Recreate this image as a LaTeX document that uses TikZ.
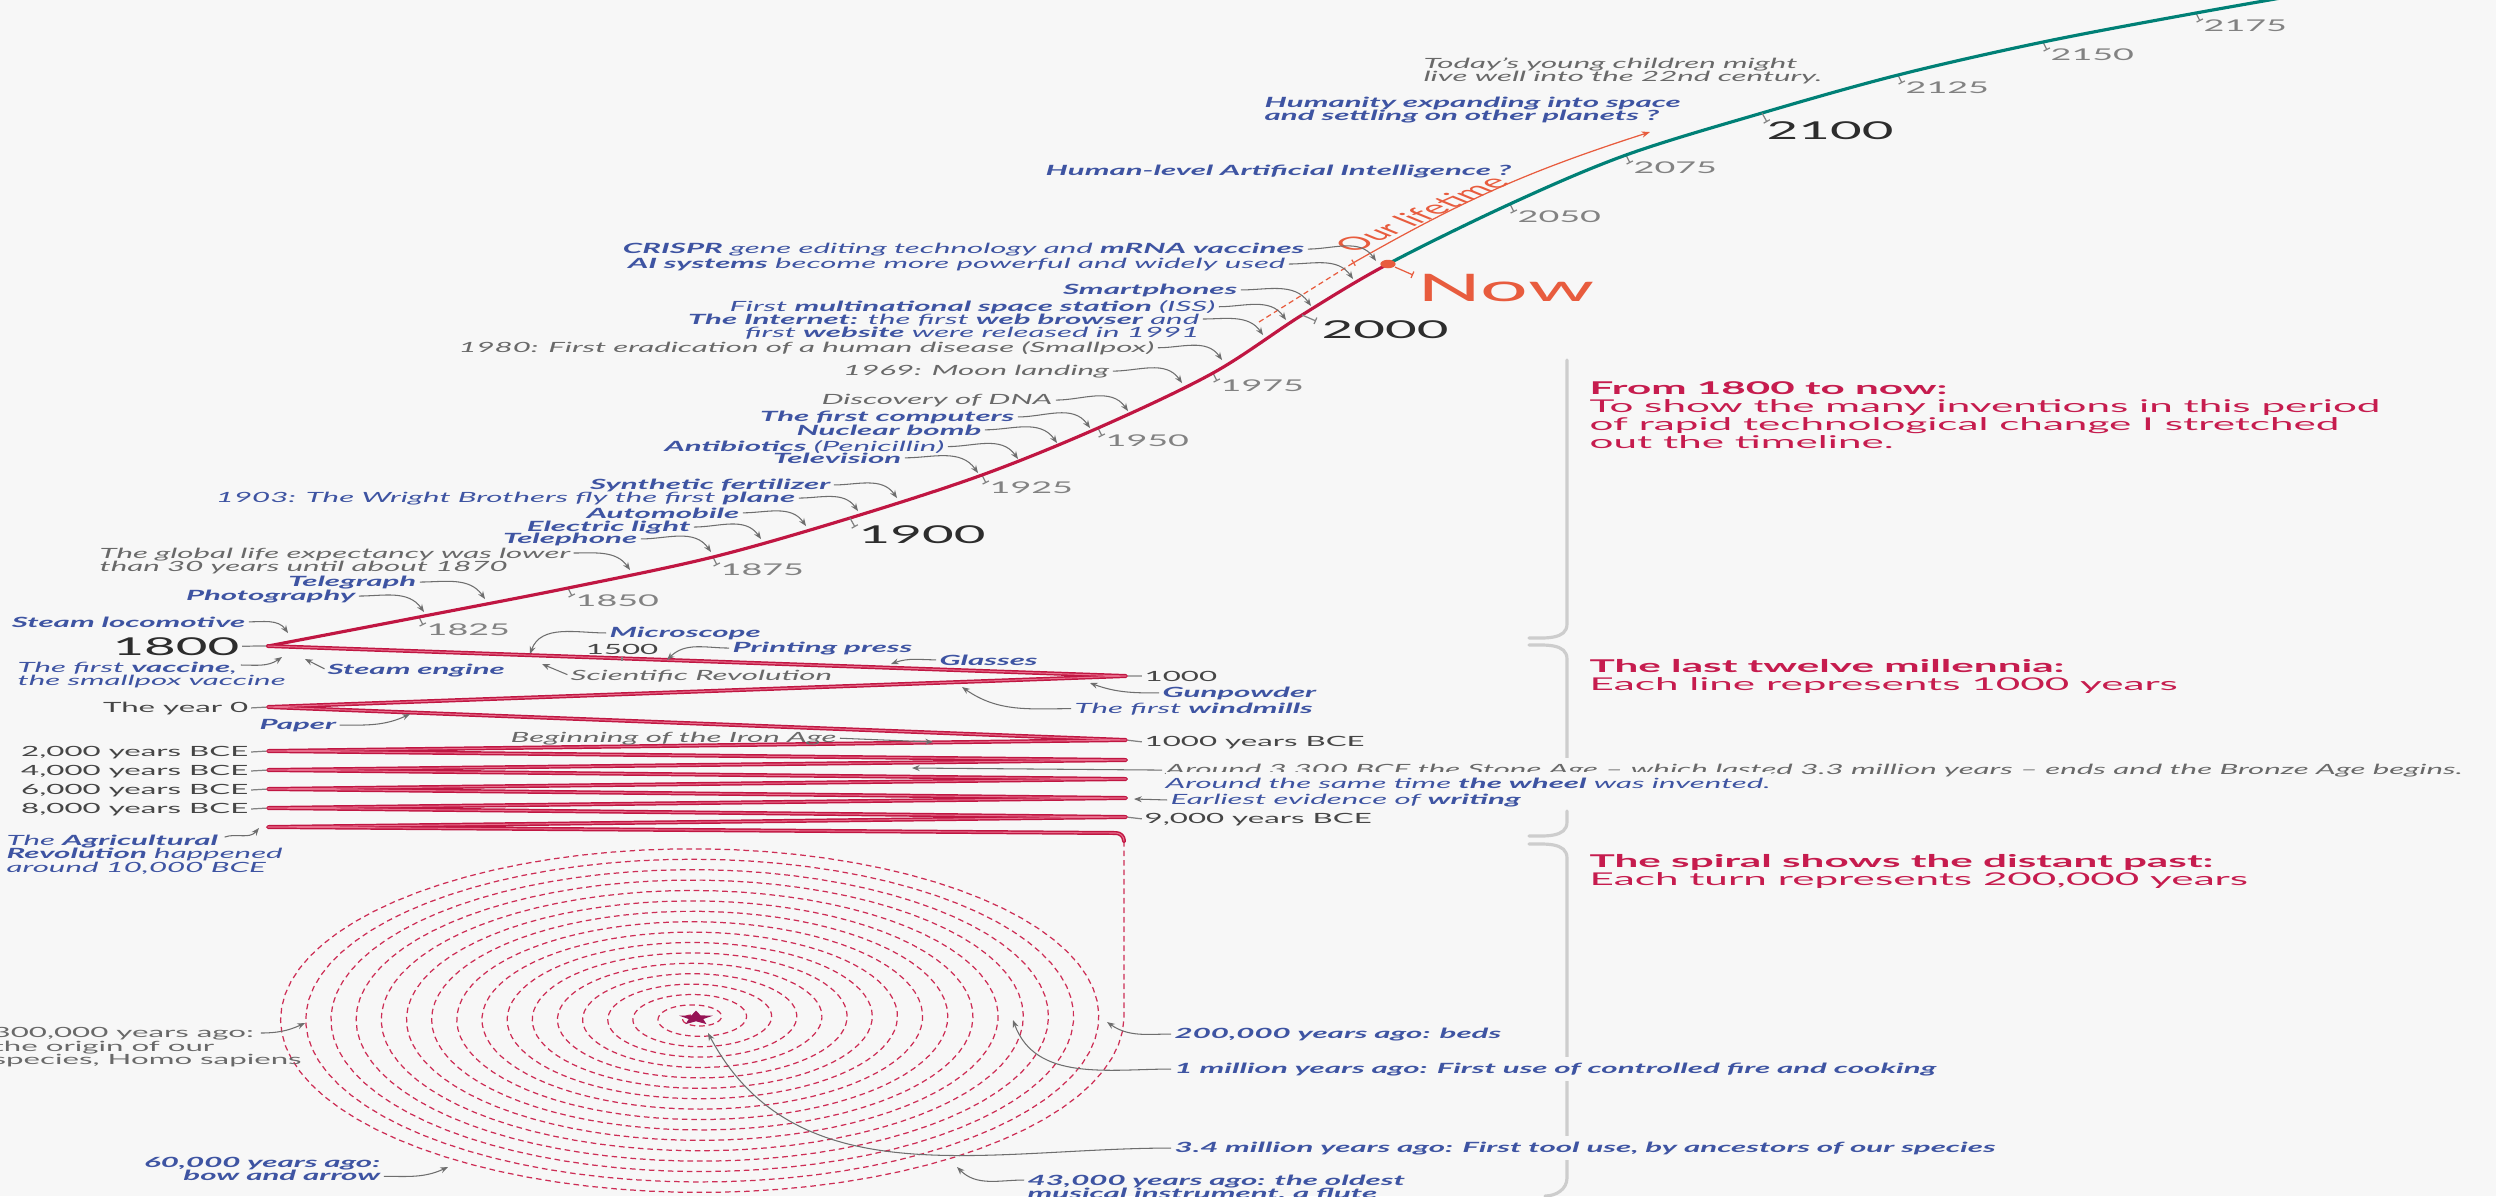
\documentclass[tikz,border=0pt]{standalone}
\usepackage{fontspec}
\setmainfont{Lato}[FakeStretch=2.22]
\newfontfamily\latoplain{Lato}
\newfontfamily\panelfont{Lato}[FakeStretch=2.4]
\usetikzlibrary{arrows.meta,shapes.geometric}

\definecolor{bgc}{RGB}{247,247,247}
\definecolor{crim}{RGB}{192,22,66}
\definecolor{crimlight}{RGB}{232,110,140}
\definecolor{crimdash}{RGB}{205,45,85}
\definecolor{tealc}{RGB}{0,128,118}
\definecolor{nowc}{RGB}{232,92,62}
\definecolor{evtblue}{RGB}{62,84,162}
\definecolor{notegrey}{RGB}{105,105,105}
\definecolor{milegrey}{RGB}{70,70,70}
\definecolor{yeargrey}{RGB}{130,130,130}
\definecolor{darkgrey}{RGB}{45,45,45}
\definecolor{pingrey}{RGB}{110,110,110}
\definecolor{bracegrey}{RGB}{205,205,205}
\definecolor{starc}{RGB}{150,20,85}
\definecolor{headc}{RGB}{198,28,78}

\newcommand\evtsize{\fontsize{4}{3.85}\selectfont}
\newcommand\yrsize{\fontsize{4.6}{4.6}\selectfont}
\newcommand\bigyrsize{\fontsize{7}{7}\selectfont}
\newcommand\nowsize{\fontsize{10.8}{10.8}\selectfont}
\newcommand\panelsize{\panelfont\fontsize{5}{5.1}\selectfont}

\begin{document}
\begin{tikzpicture}[x=0.01cm, y=-0.01cm,
    evt/.style={inner sep=0pt, text=evtblue, font=\evtsize\itshape},
    evtb/.style={evt, font=\evtsize\bfseries\itshape},
    gnote/.style={inner sep=0pt, text=notegrey, font=\evtsize\itshape},
    gplain/.style={inner sep=0pt, text=notegrey, font=\evtsize},
    mile/.style={inner sep=0pt, text=milegrey, font=\evtsize},
    yrlbl/.style={inner sep=0pt, text=yeargrey, font=\yrsize},
    bigyr/.style={inner sep=0pt, text=darkgrey, font=\bigyrsize},
    panel/.style={inner sep=0pt, text=headc, font=\panelsize, align=left},
    mask/.style={fill=bgc, inner ysep=1.5pt},
    pointer/.style={draw=pingrey, line width=0.3pt, -{Stealth[length=2.2pt,width=1.7pt]}, shorten <=0.8pt},
    yrtick/.style={draw=yeargrey, line width=0.35pt, -{Bar[width=2pt]}},
    milelink/.style={draw=yeargrey, line width=0.35pt, shorten <=0.6pt, shorten >=0.6pt},
    lifeline/.style={line width=0.9pt, line cap=round, line join=round},
    zig/.style={draw=crim, double=crimlight, double distance=0.3pt, line width=0.42pt, line join=round, line cap=round},
    spiral/.style={draw=crimdash, line width=0.35pt, dash pattern=on 1.6pt off 1.1pt},
    sidebrace/.style={draw=bracegrey, line width=0.9pt, line cap=round},
    nowdot/.style={circle, fill=nowc, inner sep=0pt, minimum size=0.085cm, xscale=1.8}
  ]
\useasboundingbox (0,0) rectangle (2496,1196);
\fill[bgc] (0,0) rectangle (2496,1196);
\clip (0,0) rectangle (2496,1196);

% braces of the right column
\draw[sidebrace] (1567,360) -- (1567,624) to[out=-90,in=0] (1529,638);
\draw[sidebrace] (1529,645) to[out=0,in=90] (1567,659) -- (1567,758);
\draw[sidebrace] (1567,811) -- (1567,822) to[out=-90,in=0] (1529,836);
\draw[sidebrace] (1529,844) to[out=0,in=90] (1567,858) -- (1567,1178) to[out=-90,in=0] (1545,1196);

% points of the timeline
\coordinate (c1800) at (268,646);
\coordinate (c1900) at (850,518);
\coordinate (c2000) at (1302,315);
\coordinate (cnow) at (1388,264);
\coordinate (c2100) at (1762,113);
\foreach \yr/\px/\py in {1825/419/617, 1850/568/588, 1875/713/557, 1925/982/475,
    1950/1098/428, 1975/1213/373, 2050/1510/204, 2075/1626/155, 2125/1898/75,
    2150/2043/42, 2175/2196/13}{
  \coordinate (c\yr) at (\px,\py);
  \draw[yrtick] (c\yr) -- ++(4,8) coordinate (e\yr);
  \node[yrlbl, anchor=base west] (l\yr) at ([shift={(3,10)}]e\yr) {\yr};
}

% since 1800: red up to now, teal afterwards
\begin{scope}
  \clip (0,0) rectangle (1388,1196);
  \draw[lifeline, draw=crim] plot[smooth, tension=0.55] coordinates {(c1800) (c1825) (c1850)
    (c1875) (c1900) (c1925) (c1950) (c1975) (c2000) (cnow) (c2050) (c2075) (c2100)
    (c2125) (c2150) (c2175) (2350,-14)};
\end{scope}
\begin{scope}
  \clip (1388,0) rectangle (2496,1196);
  \draw[lifeline, draw=tealc] plot[smooth, tension=0.55] coordinates {(c1800) (c1825) (c1850)
    (c1875) (c1900) (c1925) (c1950) (c1975) (c2000) (cnow) (c2050) (c2075) (c2100)
    (c2125) (c2150) (c2175) (2350,-14)};
\end{scope}

% the last twelve millennia
\coordinate (f1000) at (1126,676);
\coordinate (f0) at (268,707);
\coordinate (f1000bce) at (1126,740);
\coordinate (f2000) at (268,751);
\coordinate (f3000) at (1126,760);
\coordinate (f4000) at (268,770);
\coordinate (f5000) at (1126,779);
\coordinate (f6000) at (268,789);
\coordinate (f7000) at (1126,798);
\coordinate (f8000) at (268,808);
\coordinate (f9000) at (1126,817);
\coordinate (f10000) at (268,827);
\draw[zig] (c1800) -- (f1000) -- (f0) -- (f1000bce) -- (f2000) -- (f3000) -- (f4000)
  -- (f5000) -- (f6000) -- (f7000) -- (f8000) -- (f9000) -- (f10000)
  -- (1116,833) to[out=0,in=90] (1124,841);

% the spiral
\draw[spiral] (1124,841) -- (1124,1018) -- plot[domain=0:17, samples=1400, variable=\t]
  ({696+428*(1-\t/17)*cos(360*\t)}, {1018+177*(1-\t/17)*sin(360*\t)});
\begin{scope}[shift={(696,1018)}]
  \node[star, star points=5, star point ratio=2.3, fill=starc, inner sep=0pt,
    minimum size=0.15cm, xscale=2.35] (star) at (0,0) {};
\end{scope}

% big years and now
\node[bigyr, anchor=base east] (l1800) at (240,655) {1800};
\draw[milelink] (l1800.east) -- (c1800);
\node[bigyr, anchor=base west] (l1900) at (858,543) {1900};
\draw[yrtick] (c1900) -- ++(5,9);
\node[bigyr, anchor=base west] (l2000) at (1321,338) {2000};
\draw[yrtick] (c2000) -- ++(14,6);
\node[bigyr, anchor=base west] (l2100) at (1766,139) {2100};
\draw[yrtick] (c2100) -- ++(5,9);

% our lifetime
\coordinate (lifebirth) at (1259,322);
\coordinate (lifenow) at (1353,263);
\coordinate (lifeend) at (1650,132);
\draw[nowc, line width=0.35pt, dash pattern=on 1.5pt off 1pt] (lifebirth) -- (lifenow);
\draw[nowc, line width=0.35pt, {Bar[width=2pt]}-{Stealth[length=2.4pt,width=1.8pt]}]
  (lifenow) to[bend left=6] (lifeend);
\begin{scope}[shift={(1421,214)}]
  \node[text=nowc, font=\latoplain\fontsize{5.2}{5.2}\selectfont, inner sep=0pt,
    xscale=2.35, rotate=46] (lifetxt) at (0,0) {Our lifetime};
\end{scope}
\begin{scope}[shift={(cnow)}]
  \node[nowdot] (now) at (0,0) {};
\end{scope}
\node[text=nowc, font=\nowsize, inner sep=0pt, anchor=base west] (nowlbl) at (1417,301) {Now};
\draw[yrtick, draw=nowc] (now) -- ([shift={(-4,-26)}]nowlbl.base west);

% future
\node[gnote, anchor=north west, align=left] (kids) at (1423,57) {Today's young children might\\live well into the 22nd century.};
\node[evtb, anchor=north west, align=left] (space) at (1264,96) {Humanity expanding into space\\and settling on other planets ?};
\node[evtb, anchor=base west] (agi) at (1045,175) {Human-level Artificial Intelligence ?};

% since 1800
\node[evt, anchor=base east] (crispr) at (1305,253) {\textbf{CRISPR} gene editing technology and \textbf{mRNA vaccines}};
\node[evt, anchor=base east] (aisys) at (1286,268) {\textbf{AI systems} become more powerful and widely used};
\node[evtb, anchor=base east] (smart) at (1238,294) {Smartphones};
\node[evt, anchor=base east] (iss) at (1216,311) {First \textbf{multinational space station} (ISS)};
\node[evt, anchor=north east, align=right] (web) at (1200,313) {\textbf{The Internet:} the first \textbf{web browser} and\\first \textbf{website} were released in 1991};
\node[gnote, anchor=base east] (smallpox) at (1155,352) {1980: First eradication of a human disease (Smallpox)};
\node[gnote, anchor=base east] (moon) at (1110,375) {1969: Moon landing};
\node[gnote, anchor=base east] (dna) at (1053,404) {Discovery of DNA};
\node[evtb, anchor=base east] (computers) at (1015,421) {The first computers};
\node[evtb, anchor=base east] (nuke) at (982,435) {Nuclear bomb};
\node[evt, anchor=base east] (antib) at (945,451) {\textbf{Antibiotics} (Penicillin)};
\node[evtb, anchor=base east] (tv) at (902,463) {Television};
\node[evtb, anchor=base east] (fert) at (831,489) {Synthetic fertilizer};
\node[evt, anchor=base east] (wright) at (796,502) {1903: The Wright Brothers fly the first \textbf{plane}};
\node[evtb, anchor=base east] (auto) at (740,518) {Automobile};
\node[evtb, anchor=base east] (elight) at (691,531) {Electric light};
\node[evtb, anchor=base east] (phone) at (638,543) {Telephone};
\node[gnote, anchor=north west, align=left] (lifeexp) at (99,547) {The global life expectancy was lower\\than 30 years until about 1870};
\node[evtb, anchor=base east] (telegraph) at (417,586) {Telegraph};
\node[evtb, anchor=base east] (photo) at (356,600) {Photography};
\node[evtb, anchor=base east] (loco) at (246,627) {Steam locomotive};

\coordinate (tcrispr) at (1376,261);
\coordinate (taisys) at (1353,279);
\coordinate (tsmart) at (1311,306);
\coordinate (tiss) at (1286,320);
\coordinate (tweb) at (1263,335);
\coordinate (tsmallpox) at (1222,360);
\coordinate (tmoon) at (1182,383);
\coordinate (tdna) at (1128,411);
\coordinate (tcomputers) at (1090,428);
\coordinate (tnuke) at (1057,443);
\coordinate (tantib) at (1018,459);
\coordinate (ttv) at (978,473);
\coordinate (tfert) at (897,498);
\coordinate (twright) at (858,511);
\coordinate (tauto) at (806,526);
\coordinate (telight) at (761,539);
\coordinate (tphone) at (711,552);
\coordinate (tlifeexp) at (630,570);
\coordinate (ttelegraph) at (485,599);
\coordinate (tphoto) at (424,612);
\coordinate (tloco) at (288,633);
\foreach \n in {crispr, aisys, smart, iss, smallpox, moon, dna, computers, nuke, antib,
    tv, fert, wright, auto, elight, phone, telegraph, photo, loco}
  \draw[pointer] (\n.east) to[out=0,in=125] (t\n);
\draw[pointer] ([yshift=-0.06cm]web.north east) to[out=0,in=125] (tweb);
\draw[pointer] ([yshift=-0.06cm]lifeexp.north east) to[out=0,in=125] (tlifeexp);

% 1800 back to 10,000 BCE
\node[evt, anchor=north west, align=left] (vaccine) at (17,661) {The first \textbf{vaccine},\\the smallpox vaccine};
\node[evtb, anchor=base west] (steameng) at (327,674) {Steam engine};
\node[evtb, anchor=base west] (micro) at (609,637) {Microscope};
\node[mile, anchor=base] (m1500) at (622,654) {1500};
\draw[milelink] (m1500.south) -- ++(0,8);
\node[evtb, anchor=base west] (printing) at (732,652) {Printing press};
\node[evtb, anchor=base west] (glasses) at (939,665) {Glasses};
\node[gnote, anchor=base west] (scirev) at (570,680) {Scientific Revolution};
\node[mile, anchor=base west] (m1000) at (1144,681) {1000};
\node[evtb, anchor=base west] (gunpowder) at (1162,697) {Gunpowder};
\node[evt, anchor=base west] (windmills) at (1074,713) {The first \textbf{windmills}};
\node[mile, anchor=base east] (m0) at (249,712) {The year 0};
\node[evtb, anchor=base west] (paper) at (259,729) {Paper};
\node[gnote, anchor=base west] (ironage) at (510,742) {Beginning of the Iron Age};
\node[mile, anchor=base west] (m1000bce) at (1144,746) {1000 years BCE};
\node[mile, anchor=base east] (m2000) at (249,756) {2,000 years BCE};
\node[mile, anchor=base east] (m4000) at (249,775) {4,000 years BCE};
\node[mile, anchor=base east] (m6000) at (249,794) {6,000 years BCE};
\node[mile, anchor=base east] (m8000) at (249,813) {8,000 years BCE};
\node[mile, anchor=base west] (m9000) at (1144,823) {9,000 years BCE};
\node[gnote, mask, anchor=base west] (stoneage) at (1165,774) {Around 3,300 BCE the Stone Age -- which lasted 3.3 million years -- ends and the Bronze Age begins.};
\node[evt, mask, anchor=base west] (wheel) at (1165,788) {Around the same time \textbf{the wheel} was invented.};
\node[evt, anchor=base west] (writing) at (1170,804) {Earliest evidence of \textbf{writing}};
\node[evt, anchor=north west, align=left] (agri) at (6,834) {The \textbf{Agricultural}\\\textbf{Revolution} happened\\around 10,000 BCE};

\foreach \f/\m in {f1000/m1000, f1000bce/m1000bce, f9000/m9000}
  \draw[milelink] (\f) -- (\m.west);
\foreach \f/\m in {f0/m0, f2000/m2000, f4000/m4000, f6000/m6000, f8000/m8000}
  \draw[milelink] (\m.east) -- (\f);

\coordinate (vaccineout) at (238,665);
\coordinate (tvaccine) at (282,657);
\coordinate (tsteam) at (305,659);
\coordinate (tmicro) at (530,654);
\coordinate (tprinting) at (667,660);
\coordinate (tglasses) at (891,664);
\coordinate (tscirev) at (542,664);
\coordinate (tgunpowder) at (1090,683);
\coordinate (twindmills) at (962,687);
\coordinate (tpaper) at (410,714);
\coordinate (tironage) at (933,742);
\coordinate (tstone) at (912,768);
\coordinate (twriting) at (1134,799);
\coordinate (agriout) at (222,838);
\coordinate (tagri) at (259,828);
\draw[pointer] (vaccineout) to[out=0,in=215] (tvaccine);
\draw[pointer] (steameng.west) -- (tsteam);
\draw[pointer] (micro.west) to[out=180,in=70] (tmicro);
\draw[pointer] (printing.west) to[out=180,in=45] (tprinting);
\draw[pointer] (glasses.west) to[out=180,in=20] (tglasses);
\draw[pointer] (scirev.west) -- (tscirev);
\draw[pointer] (gunpowder.west) to[out=180,in=-20] (tgunpowder);
\draw[pointer] (windmills.west) to[out=180,in=-35] (twindmills);
\draw[pointer] (paper.east) to[out=0,in=205] (tpaper);
\draw[pointer] (ironage.east) -- (tironage);
\draw[pointer] (stoneage.west) -- (tstone);
\draw[pointer] (writing.west) -- (twriting);
\draw[pointer] (agriout) to[out=20,in=230] (tagri);

% the distant past
\node[evtb, anchor=base west] (beds) at (1174,1038) {200,000 years ago: beds};
\node[evtb, mask, anchor=base west] (fire) at (1174,1073) {1 million years ago: First use of controlled fire and cooking};
\node[evtb, mask, anchor=base west] (tools) at (1174,1152) {3.4 million years ago: First tool use, by ancestors of our species};
\node[evtb, anchor=north west, align=left] (flute) at (1027,1174) {43,000 years ago: the oldest\\musical instrument, a flute};
\node[evtb, anchor=north east, align=right] (bow) at (381,1156) {60,000 years ago:\\bow and arrow};
\node[gplain, anchor=north west, align=left] (sapiens) at (-8,1027) {300,000 years ago:\\the origin of our\\species, Homo sapiens};

\coordinate (tbeds) at (1107,1022);
\coordinate (tfire) at (1013,1020);
\coordinate (tstar) at (708,1033);
\coordinate (tflute) at (957,1167);
\coordinate (tbow) at (448,1167);
\coordinate (sapout) at (258,1033);
\coordinate (tsapiens) at (305,1023);
\draw[pointer] (beds.west) to[out=180,in=-35] (tbeds);
\draw[pointer] (fire.west) to[out=180,in=-70] (tfire);
\draw[pointer] (tools.west) to[out=180,in=-62] (tstar);
\draw[pointer] ([yshift=-0.06cm]flute.north west) to[out=180,in=-45] (tflute);
\draw[pointer] ([yshift=0.05cm]bow.south east) to[out=0,in=205] (tbow);
\draw[pointer] (sapout) to[out=0,in=205] (tsapiens);

% notes on the right
\node[panel, anchor=north west] (p1800) at (1589,381) {\textbf{From 1800 to now:}\\To show the many inventions in this period\\of rapid technological change I stretched\\out the timeline.};
\node[panel, anchor=north west] (pmill) at (1589,659) {\textbf{The last twelve millennia:}\\Each line represents 1000 years};
\node[panel, anchor=north west] (pspiral) at (1589,854) {\textbf{The spiral shows the distant past:}\\Each turn represents 200,000 years};
\end{tikzpicture}
\end{document}
